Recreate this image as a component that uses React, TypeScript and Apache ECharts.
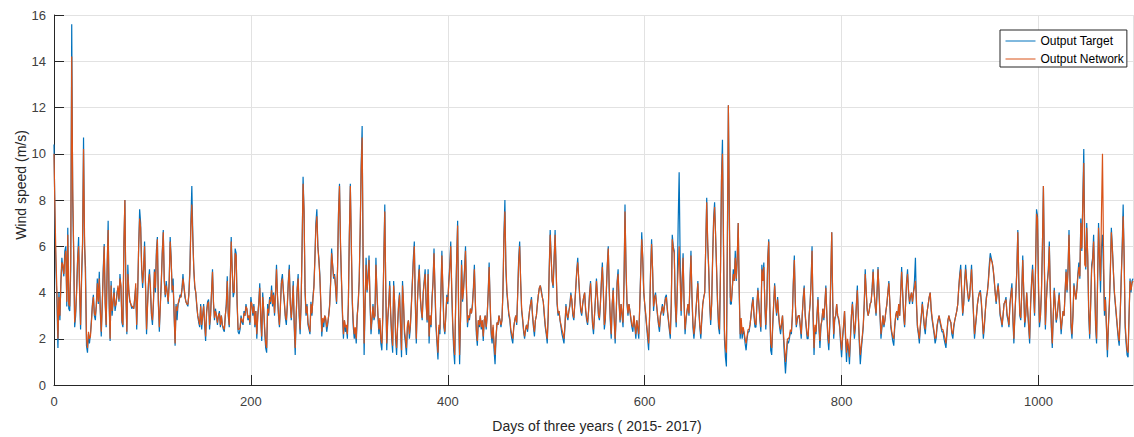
import React, { useEffect, useRef } from "react";
import * as echarts from "echarts";

// Daily wind speed (m/s), in six segments.
// Each segment: start day, target values, network values (one per day).
const startA = 0;
const targetA = [
  10.4, 7.0, 5.0, 3.5, 1.6, 4.0, 2.8, 4.5, 5.5, 5.0,
  4.7, 5.8, 6.0, 3.4, 6.8, 3.3, 3.2, 5.0, 15.6, 8.0,
  5.6, 2.5, 3.0, 4.2, 5.5, 6.4, 4.0, 2.4, 4.5, 6.0,
  10.7, 6.0, 5.1, 1.7, 1.4, 2.2, 1.8, 2.2, 2.8, 3.5,
  3.9, 3.0, 2.8, 3.5, 4.6, 3.5, 4.9, 3.2, 2.1, 3.5,
  5.0, 6.1, 3.5, 2.5, 5.0, 7.1, 3.5, 1.9, 4.5, 3.0,
  3.5, 4.2, 3.2, 3.5, 4.0, 4.2, 3.6, 4.8, 4.2, 2.7,
  2.5, 6.0, 8.0, 4.0, 2.2, 5.2, 4.0, 3.6, 3.5, 3.3,
  3.4, 3.3, 3.8, 4.2, 2.4, 4.0, 6.0, 7.6, 7.0, 5.0,
  4.2, 5.0, 6.2, 4.2, 2.2, 3.5, 4.5, 5.0, 4.0, 3.0,
  2.6, 3.5, 5.0, 4.0, 5.8, 6.4, 3.5, 2.3, 3.5, 4.5,
  5.8, 6.7, 4.5, 3.8, 4.5, 4.0, 3.5, 4.5, 6.4, 5.5,
  4.0, 4.6, 3.0, 1.7, 3.5, 2.8, 3.5, 3.6, 3.9, 3.8,
  4.2, 4.8, 4.2, 3.8, 3.6, 3.5, 3.4, 4.0, 5.0, 7.0,
  8.6, 6.5, 5.0, 4.2, 4.0, 3.4, 3.0, 2.7, 2.5, 3.5,
  2.4, 3.0, 3.5, 2.6, 1.9, 3.2, 3.6, 3.7, 2.4, 3.0,
  4.0, 5.0, 3.5, 2.8, 3.3, 3.0, 2.6, 3.0, 3.2, 2.5,
  3.0, 2.6, 2.4, 2.3, 3.0, 3.5, 4.7, 3.0, 2.5, 4.5,
  6.4, 5.0, 3.8, 4.0, 5.9, 5.7, 3.5, 2.3,
];
const networkA = [
  10.0, 7.5, 5.5, 4.0, 2.0, 3.8, 3.0, 4.4, 5.3, 5.2,
  4.8, 5.5, 5.8, 3.6, 6.5, 3.5, 3.4, 5.5, 14.2, 8.5,
  5.8, 2.7, 3.2, 4.0, 5.4, 6.0, 4.2, 2.6, 4.8, 6.2,
  10.2, 6.5, 4.5, 2.0, 1.6, 2.3, 2.0, 2.1, 2.7, 3.4,
  3.8, 3.1, 3.0, 3.4, 4.4, 3.6, 4.6, 3.3, 2.3, 3.4,
  4.8, 6.0, 3.6, 2.6, 5.2, 6.7, 3.7, 2.0, 4.3, 3.2,
  3.6, 4.0, 3.4, 3.5, 3.9, 4.3, 3.7, 4.6, 4.3, 2.8,
  2.6, 6.2, 8.0, 4.2, 2.3, 4.8, 4.1, 3.7, 3.5, 3.4,
  3.4, 3.3, 3.7, 4.4, 2.6, 4.0, 6.0, 7.2, 6.8, 5.2,
  4.4, 5.0, 6.0, 4.3, 2.4, 3.4, 4.4, 4.8, 4.2, 3.1,
  2.8, 3.6, 4.9, 4.2, 5.6, 6.3, 3.6, 2.5, 3.4, 4.4,
  5.7, 6.6, 4.6, 3.9, 4.3, 4.0, 3.6, 4.4, 6.2, 5.4,
  4.1, 4.3, 3.1, 1.8, 3.4, 3.2, 3.5, 3.7, 3.8, 3.8,
  4.1, 4.6, 4.3, 3.9, 3.6, 3.5, 3.5, 3.9, 4.8, 6.8,
  7.8, 6.3, 5.0, 4.3, 4.0, 3.5, 3.0, 2.8, 2.6, 3.4,
  2.6, 3.0, 3.4, 2.7, 2.1, 3.1, 3.5, 3.6, 2.6, 3.0,
  4.0, 4.9, 3.6, 2.9, 3.2, 3.0, 2.7, 3.0, 3.1, 2.6,
  3.0, 2.6, 2.5, 2.4, 3.0, 3.4, 4.5, 3.1, 2.6, 4.4,
  6.2, 5.0, 4.0, 4.0, 5.7, 5.6, 3.6, 2.4,
];

const startB = 188;
const targetB = [
  2.2, 2.4, 3.0, 2.7, 2.6, 3.2, 3.0, 3.5, 3.2, 2.8,
  3.0, 2.6, 3.8, 3.4, 3.0, 3.5, 2.5, 3.2, 2.0, 3.0,
  3.6, 4.4, 2.8, 1.9, 4.0, 3.2, 2.3, 1.6, 1.4, 3.5,
  3.0, 3.8, 3.5, 4.3, 3.4, 4.0, 3.0, 4.0, 5.2, 3.8,
  3.0, 2.5, 3.5, 4.5, 4.8, 4.0, 3.5, 2.9, 2.6, 3.5,
  4.5, 5.2, 3.5, 2.8, 3.5, 4.5, 2.5, 1.3, 3.0, 4.2,
  4.8, 3.0, 2.2, 3.5, 6.0, 9.0, 7.5, 4.0, 3.0, 3.5,
  2.6, 2.4, 2.2, 3.6, 3.0, 3.8, 4.3, 5.5, 7.0, 7.6,
  6.0, 5.5, 4.8, 3.5, 2.1, 2.8, 2.5, 3.0, 2.8, 2.3,
  2.6, 3.0, 3.5, 4.5, 5.9, 5.2, 4.6, 4.8, 4.2, 3.5,
  5.0, 7.5, 8.7, 6.0, 4.5, 3.0, 2.0, 2.8, 2.3, 2.5,
  2.0, 3.5, 6.5, 8.7, 6.0, 3.5, 2.5, 2.0, 2.4, 1.8,
  3.0, 3.6, 4.5, 6.5, 9.5, 11.2, 5.0, 1.3, 3.5, 5.5,
  4.0, 4.8, 5.6, 3.5, 2.2, 2.8, 3.5, 2.8, 3.0, 5.5,
  4.0, 3.0, 2.2, 2.8, 1.8, 1.5, 3.0, 5.5, 7.8, 4.0,
  1.5, 2.8, 3.5, 4.5, 3.0, 2.0, 1.4, 4.5, 3.5, 2.0,
  1.3, 2.5, 3.5, 4.0, 2.5, 1.2, 4.5, 3.5, 2.2, 1.8,
  1.3, 2.5, 2.8, 2.0, 2.5, 3.5, 4.5, 5.5, 6.2, 3.5,
  1.8, 3.5, 4.5, 5.2, 3.8, 3.2, 2.8, 4.0, 4.5, 5.0,
  3.5, 2.7, 5.0,
];
const networkB = [
  2.4, 2.5, 2.9, 2.8, 2.7, 3.1, 3.0, 3.4, 3.3, 2.9,
  3.0, 2.7, 3.6, 3.5, 3.1, 3.4, 2.6, 3.2, 2.2, 3.0,
  3.5, 4.2, 3.0, 2.1, 3.8, 3.3, 2.5, 1.8, 1.6, 3.3,
  3.1, 3.7, 3.6, 4.1, 3.5, 3.9, 3.1, 3.9, 5.0, 3.9,
  3.1, 2.6, 3.4, 4.4, 4.6, 4.1, 3.6, 3.0, 2.8, 3.4,
  4.4, 5.0, 3.6, 2.9, 3.5, 4.3, 2.7, 1.6, 3.0, 4.1,
  4.6, 3.2, 2.4, 3.5, 6.0, 8.7, 7.5, 4.2, 3.1, 3.4,
  2.7, 2.5, 2.3, 3.5, 3.1, 3.7, 4.2, 5.4, 6.8, 7.3,
  6.0, 5.4, 4.7, 3.6, 2.3, 2.9, 2.7, 3.0, 2.9, 2.5,
  2.7, 3.0, 3.4, 4.4, 5.7, 5.2, 4.7, 4.7, 4.3, 3.6,
  5.0, 7.4, 8.6, 6.2, 4.6, 3.2, 2.2, 2.8, 2.5, 2.6,
  2.2, 3.5, 6.5, 8.6, 6.2, 3.7, 2.7, 2.2, 2.5, 2.0,
  3.0, 3.5, 4.5, 6.8, 9.3, 10.7, 5.5, 1.8, 3.4, 5.2,
  4.1, 4.6, 5.4, 3.7, 2.4, 2.9, 3.4, 2.9, 3.0, 5.2,
  4.1, 3.1, 2.4, 2.9, 2.0, 1.8, 3.0, 5.4, 7.5, 4.2,
  1.8, 2.9, 3.5, 4.3, 3.1, 2.2, 1.7, 4.3, 3.6, 2.2,
  1.6, 2.6, 3.4, 3.9, 2.7, 1.5, 4.3, 3.6, 2.4, 2.0,
  1.6, 2.6, 2.8, 2.2, 2.6, 3.4, 4.4, 5.3, 6.0, 3.7,
  2.0, 3.4, 4.4, 5.0, 3.9, 3.3, 2.9, 3.9, 4.4, 4.8,
  3.6, 2.8, 4.8,
];

const startC = 381;
const targetC = [
  1.8, 3.0, 2.5, 3.8, 4.5, 5.9, 4.0, 2.5, 1.8, 1.1,
  2.5, 2.2, 4.0, 5.8, 4.0, 2.5, 2.2, 3.0, 3.9, 3.5,
  4.5, 5.2, 6.2, 4.0, 2.5, 1.5, 0.9, 3.5, 5.5, 7.1,
  3.0, 0.9, 3.0, 5.4, 3.6, 4.2, 5.0, 6.0, 4.0, 2.5,
  3.0, 2.8, 3.3, 3.1, 3.5, 4.2, 5.2, 3.5, 2.2, 1.7,
  2.8, 2.5, 3.0, 2.4, 2.8, 1.9, 2.8, 3.0, 2.4, 3.0,
  4.0, 5.3, 3.5, 2.2, 1.8, 2.5, 1.5, 0.9, 2.0, 2.7,
  2.6, 3.0, 2.8, 2.5, 2.8, 4.0, 6.5, 8.0, 5.0, 4.0,
  3.5, 3.0, 2.8, 2.3, 2.0, 1.8, 2.5, 2.8, 3.0, 2.6,
  4.0, 5.5, 6.2, 4.5, 3.2, 2.8, 2.3, 2.0, 2.4, 2.6,
  2.3, 2.8, 3.2, 3.5, 3.8, 3.0, 2.5, 2.1, 2.8, 3.0,
  3.5, 3.9, 4.2, 4.3, 4.1, 3.8, 3.6, 3.0, 2.5, 2.2,
  1.8, 3.0, 5.0, 6.7, 5.5, 4.5, 4.2, 5.5, 6.7, 5.0,
  3.5, 3.0, 3.2, 2.8, 2.5, 2.2, 2.0, 1.8, 2.5, 3.5,
  3.0, 2.8, 3.2, 3.5, 4.0, 3.6, 3.0, 2.8, 3.5, 4.2,
  5.0, 5.5, 4.5, 3.8, 3.2, 3.0, 3.5, 3.8, 4.0, 3.2,
  2.8, 2.6, 3.2, 4.0, 4.5, 3.5, 2.6, 2.2, 3.0, 3.8,
  4.6, 3.8, 3.0, 2.8, 3.5, 4.5, 5.3, 4.0, 2.4, 2.8,
  4.0, 5.2, 6.0, 4.0, 2.8, 2.0, 3.5, 4.2, 2.8, 1.8,
  3.0, 4.5, 5.0, 3.5, 2.7,
];
const networkC = [
  2.1, 3.0, 2.6, 3.7, 4.4, 5.7, 4.2, 2.7, 2.0, 1.4,
  2.6, 2.4, 3.9, 5.6, 4.2, 2.7, 2.3, 3.0, 3.8, 3.6,
  4.4, 5.0, 6.0, 4.2, 2.7, 1.8, 1.3, 3.5, 5.4, 6.9,
  3.3, 1.3, 3.0, 5.2, 3.7, 4.1, 4.9, 5.8, 4.2, 2.7,
  3.0, 2.9, 3.3, 3.1, 3.4, 4.1, 5.0, 3.6, 2.4, 1.9,
  2.8, 2.6, 3.0, 2.5, 2.8, 2.1, 2.8, 3.0, 2.5, 3.0,
  3.9, 5.1, 3.6, 2.4, 2.0, 2.6, 1.8, 1.3, 2.1, 2.7,
  2.6, 3.0, 2.8, 2.6, 2.8, 4.0, 6.3, 7.5, 5.2, 4.1,
  3.6, 3.1, 2.9, 2.4, 2.2, 2.0, 2.5, 2.8, 3.0, 2.7,
  3.9, 5.3, 6.0, 4.5, 3.3, 2.9, 2.4, 2.1, 2.4, 2.6,
  2.4, 2.8, 3.2, 3.5, 3.7, 3.1, 2.6, 2.3, 2.8, 3.0,
  3.5, 3.9, 4.2, 4.3, 4.0, 3.8, 3.6, 3.1, 2.6, 2.3,
  2.0, 3.0, 4.9, 6.5, 5.5, 4.5, 4.3, 5.4, 6.5, 5.1,
  3.6, 3.1, 3.2, 2.8, 2.6, 2.4, 2.2, 2.0, 2.6, 3.4,
  3.1, 2.9, 3.2, 3.4, 3.9, 3.7, 3.1, 2.9, 3.5, 4.2,
  4.9, 5.3, 4.6, 3.9, 3.3, 3.1, 3.5, 3.8, 4.0, 3.3,
  2.9, 2.7, 3.2, 3.9, 4.4, 3.6, 2.7, 2.4, 3.0, 3.7,
  4.5, 3.9, 3.1, 2.9, 3.5, 4.4, 5.1, 4.1, 2.6, 2.9,
  4.0, 5.1, 5.9, 4.2, 3.0, 2.2, 3.5, 4.1, 2.9, 2.0,
  3.0, 4.4, 4.8, 3.6, 2.8,
];

const startD = 576;
const targetD = [
  3.5, 3.0, 2.5, 4.5, 7.8, 5.0, 3.5, 3.0, 3.5, 3.2,
  2.8, 2.5, 2.3, 3.0, 2.5, 2.0, 2.8, 2.4, 2.0, 3.5,
  5.0, 6.6, 5.5, 4.0, 3.5, 3.0, 2.5, 2.0, 1.5, 3.0,
  5.0, 6.3, 5.0, 3.2, 3.8, 4.0, 3.5, 3.0, 2.6, 2.3,
  3.0, 3.2, 3.5, 3.0, 3.4, 3.8, 3.9, 3.2, 2.8, 2.4,
  2.0, 3.5, 6.5, 6.0, 5.8, 3.5, 2.5, 4.0, 7.0, 9.2,
  5.5, 3.0, 4.5, 5.7, 3.5, 2.2, 2.8, 3.2, 3.5, 3.0,
  4.5, 5.8, 3.8, 2.5, 2.0, 2.5, 3.2, 3.8, 4.5, 3.2,
  2.5, 2.0, 2.8, 3.5, 3.8, 4.0, 6.0, 8.1, 6.0, 5.0,
  3.5, 2.6, 3.5, 5.5, 7.2, 7.9, 6.5, 5.0, 3.5, 2.5,
  2.2, 5.0, 9.0, 10.6, 6.0, 2.0, 1.2, 0.8, 6.0, 12.1,
  7.0, 3.5, 3.5, 4.2, 5.0, 4.5, 5.8, 4.5, 5.5, 7.0,
  4.0, 2.0, 2.8, 2.0, 2.4, 2.2, 1.8, 1.5, 2.0, 2.3,
  2.3, 2.6, 3.0, 3.5, 3.8, 3.0, 2.5, 2.5, 3.5, 4.2,
  3.5, 2.8, 2.3, 5.2, 4.5, 5.3, 3.5, 2.4, 3.5, 5.5,
  6.3, 3.5, 1.5, 1.3, 2.5, 3.5, 4.4, 3.5, 3.0, 3.8,
  3.0, 2.5, 2.2, 2.6, 3.0, 2.0, 1.2, 0.5, 1.2, 1.9,
  1.8, 2.0, 2.3, 2.2, 3.0, 4.5, 5.6, 3.5, 2.5, 2.8,
  3.0, 3.0, 2.5, 2.0, 3.0, 3.8, 4.3, 3.0, 2.5, 2.0,
  2.0, 3.0,
];
const networkD = [
  3.5, 3.1, 2.7, 4.4, 7.5, 5.2, 3.6, 3.1, 3.5, 3.2,
  2.9, 2.6, 2.5, 3.0, 2.6, 2.2, 2.8, 2.5, 2.2, 3.4,
  4.9, 6.3, 5.5, 4.1, 3.5, 3.1, 2.6, 2.2, 1.8, 3.0,
  4.9, 6.1, 5.0, 3.4, 3.7, 3.9, 3.5, 3.1, 2.7, 2.5,
  3.0, 3.2, 3.4, 3.1, 3.4, 3.7, 3.8, 3.3, 2.9, 2.5,
  2.2, 3.5, 6.3, 5.9, 5.7, 3.7, 2.7, 4.0, 5.0, 6.0,
  4.5, 3.2, 4.4, 5.5, 3.6, 2.4, 2.9, 3.2, 3.5, 3.1,
  4.4, 5.6, 3.9, 2.7, 2.2, 2.6, 3.2, 3.8, 4.4, 3.3,
  2.6, 2.2, 2.9, 3.5, 3.8, 4.0, 6.0, 7.9, 6.2, 5.1,
  3.6, 2.8, 3.5, 5.4, 7.0, 7.7, 6.5, 5.1, 3.6, 2.7,
  2.4, 5.0, 8.8, 10.0, 6.5, 2.4, 1.6, 1.4, 6.5, 12.1,
  7.5, 3.8, 3.6, 4.2, 4.8, 4.5, 5.5, 4.6, 5.5, 7.0,
  4.2, 2.2, 2.9, 2.2, 2.5, 2.3, 2.0, 1.8, 2.1, 2.4,
  2.4, 2.6, 3.0, 3.4, 3.7, 3.1, 2.7, 2.6, 3.5, 4.1,
  3.5, 2.9, 2.5, 5.0, 4.5, 5.1, 3.6, 2.6, 3.5, 5.4,
  6.2, 3.7, 1.8, 1.6, 2.6, 3.5, 4.3, 3.6, 3.1, 3.7,
  3.1, 2.6, 2.4, 2.7, 3.0, 2.2, 1.6, 1.0, 1.5, 2.0,
  2.0, 2.1, 2.4, 2.3, 3.0, 4.4, 5.4, 3.6, 2.6, 2.9,
  3.0, 3.0, 2.6, 2.2, 3.0, 3.7, 4.2, 3.1, 2.6, 2.2,
  2.1, 3.0,
];

const startE = 768;
const targetE = [
  3.5, 4.5, 6.0, 3.0, 1.3, 2.5, 2.2, 3.0, 3.8, 2.5,
  1.6, 2.5, 2.8, 3.3, 2.8, 3.5, 4.3, 3.0, 2.0, 1.5,
  2.5, 4.5, 6.6, 3.5, 2.0, 2.8, 3.0, 3.5, 3.0, 2.8,
  2.5, 1.8, 1.2, 2.0, 2.5, 3.2, 2.0, 1.0, 1.8, 1.5,
  0.9, 2.0, 3.0, 3.6, 2.8, 2.0, 2.5, 3.5, 4.3, 3.0,
  1.8, 0.9, 1.5, 2.0, 2.5, 3.5, 5.0, 4.0, 3.2, 3.0,
  3.2, 3.5, 3.6, 4.2, 5.0, 4.0, 3.5, 3.0, 4.0, 5.1,
  4.0, 3.0, 2.0, 2.5, 3.0, 2.5, 2.8, 3.2, 3.5, 4.0,
  4.5, 3.5, 2.5, 2.2, 1.9, 1.7, 2.5, 3.0, 3.2, 2.8,
  3.5, 3.0, 4.0, 5.1, 4.0, 3.0, 2.5, 3.5, 4.5, 5.0,
  4.0, 3.5, 3.8, 4.0, 3.5, 4.0, 4.5, 5.5, 3.5, 2.5,
  2.2, 1.8, 2.5, 3.0, 3.6, 3.0, 2.5, 2.2, 2.8, 3.2,
  3.5, 3.8, 4.0, 3.2, 2.8, 2.5, 2.2, 1.8, 2.0, 2.5,
  2.8, 3.0, 2.7, 2.5, 2.3, 2.3, 2.0, 1.8, 1.6, 2.2,
  2.8, 3.0, 2.8, 2.7, 2.2, 2.0, 2.5, 2.8, 3.0, 3.2,
  3.5, 4.2, 4.8, 5.2, 4.0, 3.0, 3.5, 4.5, 5.2, 4.5,
  4.0, 3.6, 3.8, 4.5, 5.2, 4.0, 3.0, 2.0, 2.5, 3.0,
  3.5, 3.8, 4.0, 4.1, 3.5, 2.8, 2.0, 2.5, 3.2, 3.8,
  4.0, 4.5, 5.2, 5.7, 5.5, 5.3, 5.0, 4.5, 4.0, 3.5,
  4.0, 4.4, 3.8,
];
const networkE = [
  3.5, 4.4, 5.8, 3.2, 1.6, 2.6, 2.3, 3.0, 3.7, 2.6,
  1.9, 2.6, 2.8, 3.3, 2.9, 3.5, 4.2, 3.1, 2.2, 1.8,
  2.7, 4.8, 6.6, 3.7, 2.2, 2.9, 3.0, 3.5, 3.0, 2.9,
  2.6, 2.0, 1.5, 2.1, 2.6, 3.2, 2.2, 1.4, 2.0, 1.7,
  1.2, 2.1, 3.0, 3.5, 2.9, 2.2, 2.6, 3.4, 4.1, 3.0,
  2.0, 1.3, 1.7, 2.1, 2.6, 3.5, 4.8, 4.1, 3.3, 3.0,
  3.2, 3.5, 3.6, 4.1, 4.9, 4.1, 3.5, 3.1, 4.0, 5.0,
  4.1, 3.1, 2.2, 2.6, 3.0, 2.6, 2.8, 3.2, 3.5, 4.0,
  4.4, 3.6, 2.6, 2.3, 2.1, 2.0, 2.6, 3.0, 3.2, 2.9,
  3.5, 3.0, 4.0, 4.9, 4.0, 3.1, 2.6, 3.5, 4.4, 4.8,
  4.1, 3.6, 3.8, 4.0, 3.6, 4.0, 4.2, 4.5, 3.7, 2.6,
  2.3, 2.0, 2.6, 3.0, 3.5, 3.1, 2.6, 2.4, 2.9, 3.2,
  3.5, 3.8, 4.0, 3.3, 2.9, 2.6, 2.3, 2.0, 2.1, 2.6,
  2.8, 3.0, 2.8, 2.6, 2.4, 2.4, 2.2, 2.0, 1.8, 2.3,
  2.8, 3.0, 2.8, 2.7, 2.3, 2.2, 2.6, 2.8, 3.0, 3.2,
  3.5, 4.2, 4.7, 5.0, 4.1, 3.1, 3.5, 4.4, 5.0, 4.5,
  4.0, 3.7, 3.8, 4.4, 5.0, 4.1, 3.1, 2.2, 2.6, 3.0,
  3.5, 3.8, 4.0, 4.0, 3.6, 2.9, 2.2, 2.6, 3.2, 3.7,
  4.0, 4.4, 5.0, 5.5, 5.4, 5.3, 5.0, 4.6, 4.0, 3.6,
  4.0, 4.3, 3.8,
];

const startF = 961;
const targetF = [
  3.0, 2.8, 2.5, 3.0, 3.5, 3.6, 3.8, 3.0, 2.8, 2.5,
  3.5, 4.0, 4.4, 2.8, 1.8, 3.0, 4.0, 5.0, 6.7, 4.5,
  3.0, 2.8, 4.0, 5.6, 4.0, 2.5, 3.0, 4.0, 3.2, 2.5,
  1.8, 3.5, 4.5, 5.2, 4.0, 3.0, 5.0, 7.6, 7.3, 4.0,
  2.5, 3.0, 4.0, 6.0, 8.6, 5.0, 2.4, 3.7, 4.5, 5.0,
  6.2, 4.0, 2.5, 1.6, 3.0, 4.2, 3.5, 2.7, 3.0, 3.5,
  4.0, 3.0, 2.2, 2.8, 3.2, 3.0, 4.0, 5.0, 4.0, 5.0,
  6.7, 4.5, 2.5, 2.0, 3.0, 4.4, 4.0, 3.7, 4.2, 4.8,
  5.3, 4.6, 7.2, 5.8, 8.0, 10.2, 6.0, 5.0, 7.0, 5.5,
  3.0, 2.0, 3.5, 5.2, 5.5, 6.5, 4.5, 2.5, 1.8, 4.5,
  7.0, 5.5, 4.0, 6.0, 6.5, 5.0, 3.0, 3.8, 2.5, 1.2,
  2.5, 3.5, 5.0, 6.8, 6.0, 5.0, 4.0, 3.5, 3.0, 2.5,
  2.0, 1.7, 3.0, 4.6, 6.0, 7.8, 5.5, 2.5, 1.8, 1.3,
  1.2, 3.0, 4.6, 4.0, 4.5, 4.6,
];
const networkF = [
  3.1, 2.9, 2.6, 3.0, 3.5, 3.6, 3.7, 3.1, 2.9, 2.6,
  3.5, 3.9, 4.2, 3.0, 2.0, 3.0, 3.9, 4.9, 6.6, 4.6,
  3.1, 2.9, 4.0, 5.4, 4.1, 2.7, 3.0, 4.0, 3.3, 2.6,
  2.0, 3.5, 4.4, 5.0, 4.1, 3.1, 5.0, 7.4, 7.2, 4.5,
  2.7, 3.0, 4.0, 6.0, 8.6, 5.2, 2.6, 3.6, 4.4, 4.9,
  6.0, 4.1, 2.7, 1.8, 3.0, 4.1, 3.5, 2.8, 3.0, 3.5,
  3.9, 3.1, 2.4, 2.8, 3.2, 3.0, 4.0, 4.9, 4.1, 5.0,
  6.5, 4.6, 2.7, 2.2, 3.0, 4.3, 4.0, 3.7, 4.1, 4.7,
  5.1, 4.7, 7.0, 5.9, 7.8, 9.6, 5.2, 5.1, 6.8, 5.6,
  3.3, 2.2, 3.5, 5.0, 5.4, 6.2, 4.6, 2.7, 2.0, 4.4,
  6.8, 5.5, 4.5, 7.5, 10.0, 6.0, 3.2, 3.7, 2.6, 1.5,
  2.6, 3.5, 4.9, 6.6, 5.9, 5.0, 4.1, 3.6, 3.1, 2.6,
  2.2, 1.9, 3.1, 4.5, 5.8, 7.3, 5.6, 2.7, 2.0, 1.5,
  1.4, 3.0, 4.5, 4.1, 4.4, 4.5,
];

const xTicks = [0, 200, 400, 600, 800, 1000];
const yTicks = [0, 2, 4, 6, 8, 10, 12, 14, 16];
const seriesNames = ["Output Target", "Output Network"];
const xTitle = "Days of three years ( 2015- 2017)";
const yTitle = "Wind speed (m/s)";

const FONT = "'Liberation Sans', Arial, Helvetica, sans-serif";

function buildPairs(segs: Array<[number, number[]]>) {
  const out: Array<[number, number]> = [];
  segs.forEach(([start, vals]) => {
    vals.forEach((v, i) => out.push([start + i, v]));
  });
  return out;
}

export default function App() {
  const ref = useRef<HTMLDivElement>(null);

  useEffect(() => {
    if (!ref.current) return;
    const chart = echarts.init(ref.current, undefined, { renderer: "svg" });

    const targetData = buildPairs([
      [startA, targetA], [startB, targetB], [startC, targetC],
      [startD, targetD], [startE, targetE], [startF, targetF],
    ]);
    const networkData = buildPairs([
      [startA, networkA], [startB, networkB], [startC, networkC],
      [startD, networkD], [startE, networkE], [startF, networkF],
    ]);

    const axisColor = "#262626";
    const labelColor = "#404040";
    const gridColor = "#e2e2e2";

    chart.setOption({
      animation: false,
      backgroundColor: "#ffffff",
      grid: { left: 54, right: 1, top: 15, bottom: 52, containLabel: false },
      legend: {
        data: seriesNames,
        orient: "vertical",
        left: 1000,
        top: 30,
        padding: [5, 3, 2, 5],
        itemWidth: 30,
        itemHeight: 14,
        itemGap: 6,
        borderColor: axisColor,
        borderWidth: 1,
        backgroundColor: "#ffffff",
        itemStyle: { opacity: 0, borderWidth: 0 },
        lineStyle: { width: 1 },
        textStyle: { fontSize: 12, color: "#000000", fontFamily: FONT },
      },
      xAxis: {
        type: "value",
        min: 0,
        max: 1096,
        interval: 200,
        axisLine: { show: true, onZero: false, lineStyle: { color: axisColor, width: 1 } },
        axisTick: { show: true, inside: true, length: 10, lineStyle: { color: axisColor } },
        axisLabel: {
          margin: 10,
          fontSize: 13,
          color: labelColor,
          fontFamily: FONT,
          showMaxLabel: false,
          formatter: (v: number) => (xTicks.includes(v) ? String(v) : ""),
        },
        splitLine: { show: true, lineStyle: { color: gridColor, width: 1 } },
      },
      yAxis: {
        type: "value",
        min: 0,
        max: 16,
        interval: 2,
        axisLine: { show: true, lineStyle: { color: axisColor, width: 1 } },
        axisTick: { show: true, inside: true, length: 10, lineStyle: { color: axisColor } },
        axisLabel: {
          margin: 8,
          fontSize: 13,
          color: labelColor,
          fontFamily: FONT,
          formatter: (v: number) => (yTicks.includes(v) ? String(v) : ""),
        },
        splitLine: { show: true, lineStyle: { color: gridColor, width: 1 } },
      },
      graphic: [
        {
          type: "text",
          x: 21,
          y: 185,
          rotation: Math.PI / 2,
          style: {
            text: yTitle,
            fontSize: 14,
            fontFamily: FONT,
            fill: axisColor,
            align: "center",
            verticalAlign: "middle",
            textAlign: "center",
            textVerticalAlign: "middle",
          },
        },
        {
          type: "text",
          x: 597,
          y: 426,
          style: {
            text: xTitle,
            fontSize: 14,
            fontFamily: FONT,
            fill: axisColor,
            align: "center",
            verticalAlign: "middle",
            textAlign: "center",
            textVerticalAlign: "middle",
          },
        },
      ],
      series: [
        {
          name: seriesNames[0],
          type: "line",
          data: targetData,
          symbol: "none",
          showSymbol: false,
          lineStyle: { width: 1.2, color: "#0072BD" },
          itemStyle: { color: "#0072BD" },
        },
        {
          name: seriesNames[1],
          type: "line",
          data: networkData,
          symbol: "none",
          showSymbol: false,
          lineStyle: { width: 1.2, color: "#D95319" },
          itemStyle: { color: "#D95319" },
        },
      ],
    });

    return () => chart.dispose();
  }, []);

  return (
    <div
      ref={ref}
      style={{ position: "fixed", left: 0, top: 0, width: 1134, height: 437, background: "#fff" }}
    />
  );
}
